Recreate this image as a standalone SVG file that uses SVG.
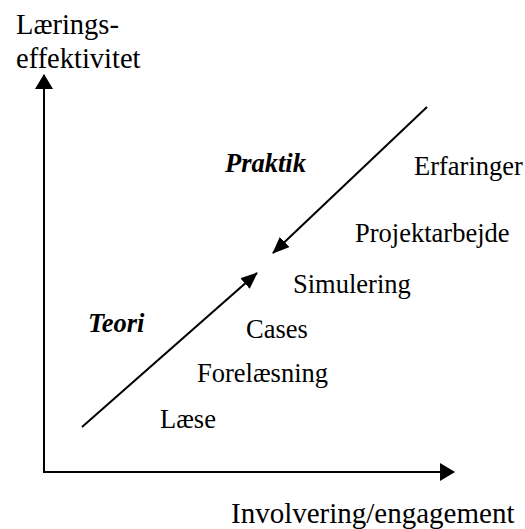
<svg xmlns="http://www.w3.org/2000/svg" width="525" height="529" viewBox="0 0 525 529">
<style>
text{font-family:"Liberation Serif","Times New Roman",serif;fill:#000}
.ax{font-size:28.5px}
.lb{font-size:26.5px}
.bi{font-size:26.5px;font-weight:bold;font-style:italic}
.ln{stroke:#000;stroke-width:2;fill:none}
</style>
<defs>
<marker id="ah" viewBox="0 0 15 18" refX="14" refY="9" markerWidth="15" markerHeight="18" orient="auto" markerUnits="userSpaceOnUse">
<path d="M0,0 L15,9 L0,18 Z" fill="#000"/>
</marker>
<marker id="ad" viewBox="0 0 17 14" refX="16" refY="7" markerWidth="17" markerHeight="14" orient="auto" markerUnits="userSpaceOnUse">
<path d="M0,0 L17,7 L0,14 Z" fill="#000"/>
</marker>
</defs>
<g id="connectors">
<line class="ln" x1="44" y1="472" x2="44" y2="75" marker-end="url(#ah)"/>
<line class="ln" x1="43" y1="472" x2="454" y2="472" marker-end="url(#ah)"/>
<line class="ln" x1="82" y1="427" x2="257" y2="273" marker-end="url(#ad)"/>
<line class="ln" x1="427" y1="107" x2="273" y2="253" marker-end="url(#ad)"/>
</g>
<g id="y-axis-label"><text class="ax" x="16" y="34">Lærings-</text><text class="ax" x="16" y="68">effektivitet</text></g>
<g id="x-axis-label"><text class="ax" x="231" y="523" style="font-size:29px">Involvering/engagement</text></g>
<g id="praktik"><text class="bi" x="225" y="172">Praktik</text></g>
<g id="teori"><text class="bi" x="88" y="332">Teori</text></g>
<g id="erfaringer"><text class="lb" x="414" y="175">Erfaringer</text></g>
<g id="projektarbejde"><text class="lb" x="355" y="242">Projektarbejde</text></g>
<g id="simulering"><text class="lb" x="293" y="293">Simulering</text></g>
<g id="cases"><text class="lb" x="246" y="338">Cases</text></g>
<g id="forelaesning"><text class="lb" x="197" y="382">Forelæsning</text></g>
<g id="laese"><text class="lb" x="160" y="428">Læse</text></g>
</svg>
